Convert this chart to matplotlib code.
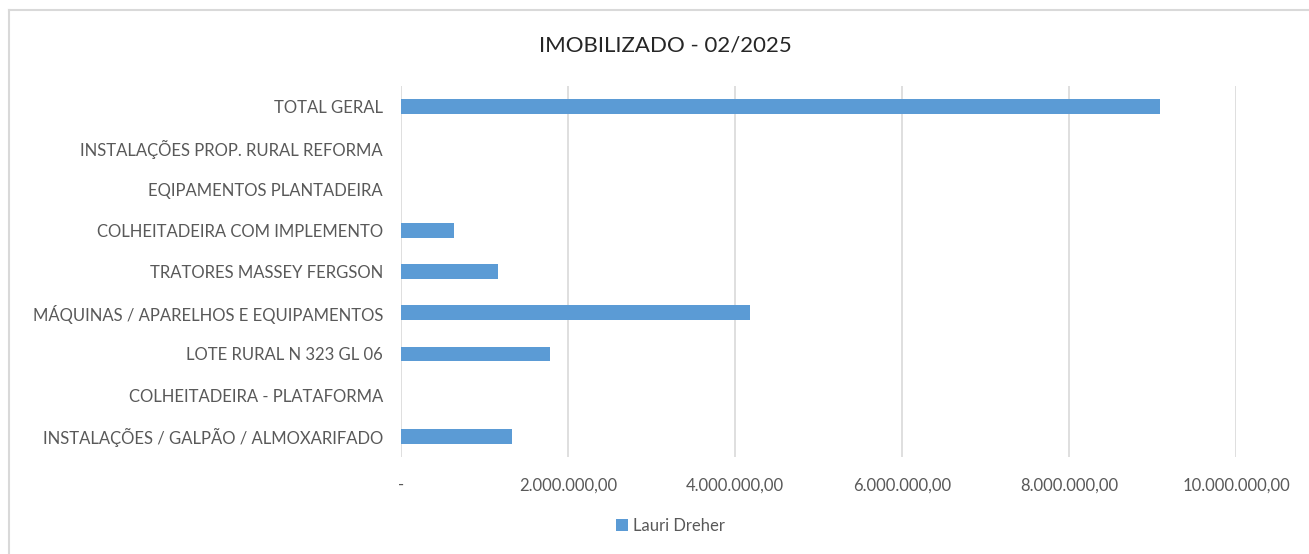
import matplotlib.pyplot as plt
from matplotlib.lines import Line2D
from matplotlib.ticker import FuncFormatter

plt.rcParams['font.family'] = ['Lato', 'DejaVu Sans']

# categories bottom to top, values in R$
categorias = [
    'INSTALAÇÕES / GALPÃO / ALMOXARIFADO',
    'COLHEITADEIRA - PLATAFORMA',
    'LOTE RURAL N 323 GL 06',
    'MÁQUINAS / APARELHOS E EQUIPAMENTOS',
    'TRATORES MASSEY FERGSON',
    'COLHEITADEIRA COM IMPLEMENTO',
    'EQIPAMENTOS PLANTADEIRA',
    'INSTALAÇÕES PROP. RURAL REFORMA',
    'TOTAL GERAL',
]
valores = [1330000, 0, 1790000, 4180000, 1165000, 630000, 0, 0, 9095000]
serie = 'Lauri Dreher'
x_ticks = [0, 2000000, 4000000, 6000000, 8000000, 10000000]

cor_barra = '#5b9bd5'
cor_texto = '#595959'

fig = plt.figure(figsize=(13.09, 5.54), dpi=100)
ax = fig.add_axes([401 / 1309, 1 - 457 / 554, (1236 - 401) / 1309, (457 - 86) / 554])

ax.barh(range(len(categorias)), valores, height=0.36, color=cor_barra,
        label=serie, zorder=3)

ax.set_xlim(0, 10000000)
ax.set_ylim(-0.5, len(categorias) - 0.5)
ax.set_xticks(x_ticks)


def fmt(v, pos):
    if v == 0:
        return '-'
    s = f'{v:,.2f}'
    return s.replace(',', 'X').replace('.', ',').replace('X', '.')


ax.xaxis.set_major_formatter(FuncFormatter(fmt))
ax.set_yticks(range(len(categorias)))
ax.set_yticklabels(categorias)
ax.tick_params(axis='both', length=0, labelsize=12, colors=cor_texto)
ax.tick_params(axis='x', pad=14.5)
ax.tick_params(axis='y', pad=13)
ax.grid(axis='x', color='#d9d9d9', linewidth=1.2, zorder=0)
for s in ax.spines.values():
    s.set_visible(False)

fig.text(0.508, 1 - 45 / 554, 'IMOBILIZADO - 02/2025', ha='center', va='center',
         fontsize=16, color='#262626')

fig.legend(loc='center', bbox_to_anchor=(0.512, 1 - 526 / 554), frameon=False,
           fontsize=12, handlelength=0.7, handleheight=0.7, handletextpad=0.3,
           labelcolor=cor_texto)

# chart frame (top and left edges)
fig.add_artist(Line2D([9 / 1309, 1], [1 - 10 / 554] * 2, color='#d9d9d9', lw=1.5))
fig.add_artist(Line2D([9 / 1309] * 2, [0, 1 - 10 / 554], color='#d9d9d9', lw=1.5))

fig.savefig('out.png', dpi=100)
